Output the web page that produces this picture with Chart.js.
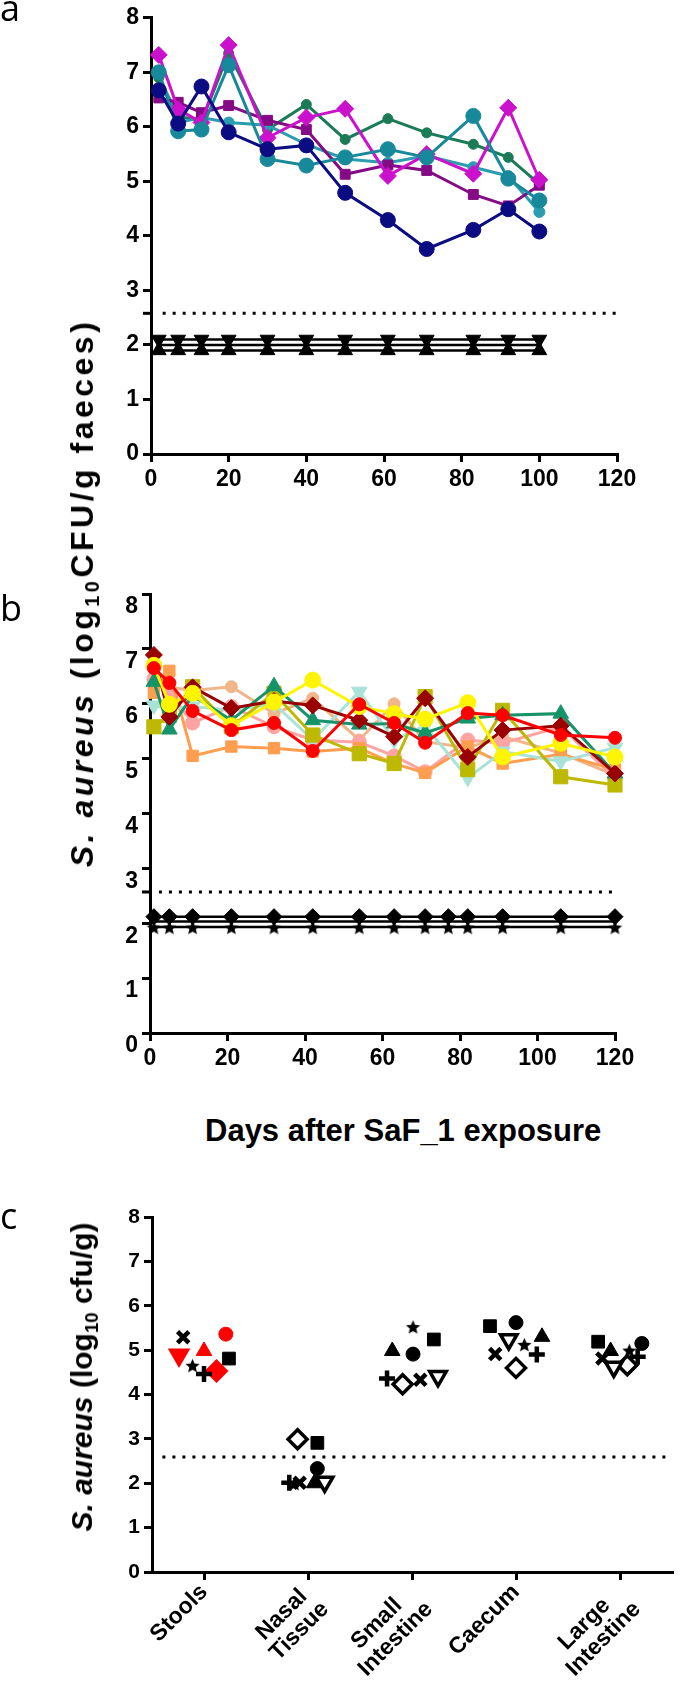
<!DOCTYPE html>
<html>
<head>
<meta charset="utf-8">
<script src="https://cdn.jsdelivr.net/npm/chart.js@4.4.1/dist/chart.umd.min.js"></script>
<style>
  html, body { margin: 0; padding: 0; background: #fff; }
  #page { position: relative; width: 685px; height: 1683px; overflow: hidden; color: #000;
          font-family: 'Liberation Sans', Arial, sans-serif; }
  #page canvas { position: absolute; left: 0; }
  .letter { position: absolute; left: 0; font: 36px 'Open Sans', sans-serif; line-height: 1; }
  .ytitle { position: absolute; white-space: nowrap; font-weight: bold; line-height: 1;
            transform: translate(-50%, -50%) rotate(-90deg); }
  .ytitle .sub { font-size: 0.62em; position: relative; top: 0.3em; }
  #xtitleB { position: absolute; left: 205px; top: 1115px; font-weight: bold; font-size: 31px;
             line-height: 1; white-space: nowrap; }
</style>
</head>
<body>
<div id="page">
  <canvas id="chartA" width="685" height="500" style="top:0px"></canvas>
  <canvas id="chartB" width="685" height="520" style="top:560px"></canvas>
  <canvas id="chartC" width="685" height="503" style="top:1180px"></canvas>

  <div class="letter" style="top:-10px">a</div>
  <div class="letter" style="top:590px">b</div>
  <div class="letter" style="top:1198px">c</div>

  <div class="ytitle" style="left:82px; top:593px; font-size:32px; letter-spacing:3.5px"><i>S. aureus</i> (log<span class="sub">10</span>CFU/g faeces)</div>
  <div id="xtitleB">Days after SaF_1 exposure</div>
  <div class="ytitle" style="left:82px; top:1377px; font-size:30px"><i>S. aureus</i> (log<span class="sub">10</span> cfu/g)</div>
</div>

<script>
// ---- panel a : faeces, days 2-100 ----
const daysA = [2, 7, 13, 20, 30, 40, 50, 61, 71, 83, 92, 100];
const navyA    = [6.67, 6.06, 6.74, 5.90, 5.59, 5.66, 4.79, 4.29, 3.76, 4.11, 4.49, 4.08];
const magentaA = [7.32, 6.32, 6.08, 7.50, 5.80, 6.17, 6.33, 5.10, 5.50, 5.14, 6.35, 5.03];
const purpleA  = [6.53, 6.45, 6.26, 6.39, 6.12, 5.95, 5.13, 5.30, 5.20, 4.76, 4.55, 4.93];
const greenA   = [6.90, 6.20, 6.10, 7.35, 5.95, 6.41, 5.77, 6.15, 5.89, 5.68, 5.44, 4.95];
const tealA    = [7.00, 5.92, 5.95, 7.13, 5.41, 5.29, 5.44, 5.59, 5.44, 6.20, 5.05, 4.65];
const tealB    = [6.98, 6.08, 6.17, 6.08, 6.03, 5.68, 5.41, 5.34, 5.47, 5.26, 5.10, 4.44];
const blackDownA = [2.1, 2.1, 2.1, 2.1, 2.1, 2.1, 2.1, 2.1, 2.1, 2.1, 2.1, 2.1];
const blackMidA  = [2.0, 2.0, 2.0, 2.0, 2.0, 2.0, 2.0, 2.0, 2.0, 2.0, 2.0, 2.0];
const blackUpA   = [1.9, 1.9, 1.9, 1.9, 1.9, 1.9, 1.9, 1.9, 1.9, 1.9, 1.9, 1.9];
const limitA = 2.58;

// ---- panel b : days 1-120 ----
const daysB = [1, 5, 11, 21, 32, 42, 54, 63, 71, 82, 91, 106, 120];
const redB       = [6.65, 6.38, 5.87, 5.52, 5.65, 5.14, 5.99, 5.65, 5.29, 5.83, 5.79, 5.43, 5.38];
const yellowB    = [6.70, 5.99, 6.19, 5.60, 6.03, 6.43, 5.95, 5.82, 5.72, 6.02, 5.03, 5.28, 5.03];
const darkRedB   = [6.89, 5.76, 6.30, 5.92, 6.05, 5.97, 5.70, 5.40, 6.10, 5.03, 5.52, 5.60, 4.73];
const greenB     = [6.40, 5.53, 6.15, 5.70, 6.32, 5.70, 5.62, 5.64, 5.47, 5.73, 5.79, 5.82, 4.73];
const oliveB     = [5.58, 5.79, 6.31, 5.58, 6.19, 5.43, 5.09, 4.91, 6.13, 4.80, 5.88, 4.67, 4.52];
const turquoiseB = [5.97, 5.90, 5.95, 5.88, 6.00, 5.34, 6.22, 5.34, 5.60, 4.65, 5.13, 4.95, 5.20];
const pinkB      = [6.45, 6.20, 5.65, 5.95, 5.58, 5.34, 5.30, 5.05, 4.76, 5.34, 5.28, 5.58, 4.65];
const peachB     = [6.40, 6.30, 6.24, 6.31, 5.82, 6.10, 5.34, 6.00, 5.31, 5.20, 5.40, 5.10, 4.70];
const orangeB    = [6.20, 6.60, 5.05, 5.22, 5.19, 5.13, 5.19, 4.91, 4.74, 5.22, 4.91, 5.08, 4.80];
const daysBlackB = [1, 5, 11, 21, 32, 42, 54, 63, 71, 77, 82, 91, 106, 120];
const blackDiamondB = [2.12, 2.12, 2.12, 2.12, 2.12, 2.12, 2.12, 2.12, 2.12, 2.12, 2.12, 2.12, 2.12, 2.12];
const blackMidB     = [2.03, 2.03, 2.03, 2.03, 2.03, 2.03, 2.03, 2.03, 2.03, 2.03, 2.03, 2.03, 2.03, 2.03];
const blackStarB    = [1.93, 1.93, 1.93, 1.93, 1.93, 1.93, 1.93, 1.93, 1.93, 1.93, 1.93, 1.93, 1.93, 1.93];
const limitB = 2.57;

// ---- panel c : organs ----
const organs = ['Stools', ['Nasal', 'Tissue'], ['Small', 'Intestine'], 'Caecum', ['Large', 'Intestine']];
const cCross   = [5.29, 2.01, 4.33, 4.91, 4.81];
const cTriDown = [4.89, 2.03, 4.41, 5.24, 4.62];
const cStar    = [4.66, 2.00, 5.53, 5.13, 5.00];
const cTriUp   = [4.98, 2.00, 4.98, 5.30, 4.98];
const cPlus    = [4.46, 2.01, 4.36, 4.90, 4.85];
const cDiamond = [4.53, 2.99, 4.23, 4.60, 4.66];
const cCircle  = [5.36, 2.33, 4.91, 5.62, 5.15];
const cSquare  = [4.81, 2.91, 5.24, 5.54, 5.19];
// horizontal scatter of each symbol inside its column (fraction of column width)
const sCross   = [-0.20, -0.08, 0.08, -0.20, -0.17];
const sTriDown = [-0.24, 0.16, 0.25, -0.07, -0.06];
const sStar    = [-0.11, -0.13, 0.01, 0.08, 0.09];
const sTriUp   = [0.00, 0.06, -0.19, 0.25, -0.09];
const sPlus    = [0.00, -0.18, -0.24, 0.20, 0.17];
const sDiamond = [0.12, -0.10, -0.09, 0.00, 0.07];
const sCircle  = [0.21, 0.09, 0.01, 0.00, 0.21];
const sSquare  = [0.24, 0.09, 0.21, -0.25, -0.21];
const limitC = 2.59;

Chart.defaults.font.family = "'Liberation Sans', Arial, sans-serif";
Chart.defaults.font.weight = 'bold';
Chart.defaults.color = '#000';
Chart.defaults.plugins.legend.display = false;
Chart.defaults.plugins.tooltip.enabled = false;

// short tick on the y axis at the detection limit
const limitTick = {
  id: 'limitTick',
  afterDraw(chart, args, opts) {
    if (opts.value == null) return;
    const y = chart.scales.y.getPixelForValue(opts.value);
    const ctx = chart.ctx;
    ctx.save();
    ctx.strokeStyle = '#000';
    ctx.lineWidth = 3;
    ctx.beginPath();
    ctx.moveTo(chart.chartArea.left - 8, y);
    ctx.lineTo(chart.chartArea.left, y);
    ctx.stroke();
    ctx.restore();
  }
};

function starMarker(size, color) {
  const c = document.createElement('canvas');
  c.width = c.height = size;
  const g = c.getContext('2d');
  const R = size / 2, r = R * 0.45;
  g.beginPath();
  for (let i = 0; i < 10; i++) {
    const rad = i % 2 ? r : R;
    const ang = -Math.PI / 2 + i * Math.PI / 5;
    g.lineTo(R + rad * Math.cos(ang), R + 1 + rad * Math.sin(ang));
  }
  g.closePath();
  g.fillStyle = color;
  g.fill();
  return c;
}

function pts(xs, ys) {
  return xs.map((x, i) => ({ x: x, y: ys[i] }));
}

function series(days, values, color, style, radius, extra) {
  return Object.assign({
    data: pts(days, values),
    borderColor: color,
    backgroundColor: color,
    pointBackgroundColor: color,
    pointBorderColor: color,
    borderWidth: 3,
    pointBorderWidth: 1,
    pointStyle: style,
    pointRadius: radius,
    tension: 0,
    clip: false
  }, extra || {});
}

function limitLine(x0, x1, value) {
  return {
    type: 'line',
    data: [{ x: x0, y: value }, { x: x1, y: value }],
    borderColor: '#000',
    borderWidth: 3,
    borderDash: [3, 7],
    pointRadius: 0,
    order: 50
  };
}

function axis(opts) {
  return {
    type: 'linear',
    min: opts.min,
    max: opts.max,
    grid: { drawOnChartArea: false, drawTicks: true, tickLength: 8, tickWidth: 3, lineWidth: 3, color: '#000' },
    border: { display: true, width: 3, color: '#000' },
    ticks: Object.assign({ font: { size: opts.size || 23, weight: 'bold' }, color: '#000', padding: 4 }, opts.ticks || {}),
    afterFit: opts.fit,
    afterBuildTicks: opts.build
  };
}

// ---------- panel a ----------
new Chart(document.getElementById('chartA'), {
  type: 'line',
  data: {
    datasets: [
      series(daysA, navyA, '#0B0B82', 'circle', 7.5, { order: 0 }),
      series(daysA, tealA, '#17899B', 'circle', 7.5, { order: 1 }),
      series(daysA, magentaA, '#CC11CC', 'rectRot', 8.5, { order: 2 }),
      series(daysA, purpleA, '#850A85', 'rect', 7, { order: 3 }),
      series(daysA, tealB, '#2A9DAF', 'circle', 5.5, { order: 4 }),
      series(daysA, greenA, '#1A7B56', 'circle', 5, { order: 5 }),
      series(daysA, blackDownA, '#000', 'triangle', 8.5, { pointRotation: 180, borderWidth: 2.5, order: 6 }),
      series(daysA, blackMidA, '#000', 'circle', 0, { borderWidth: 2.5, order: 7 }),
      series(daysA, blackUpA, '#000', 'triangle', 8.5, { borderWidth: 2.5, order: 8 }),
      limitLine(3, 120, limitA)
    ]
  },
  options: {
    responsive: false,
    animation: false,
    devicePixelRatio: 1,
    layout: { padding: { left: 111, right: 68, top: 14, bottom: 0 } },
    plugins: { limitTick: { value: limitA } },
    scales: {
      x: axis({ min: 0, max: 120, ticks: { stepSize: 20 }, fit: s => { s.height = 46; } }),
      y: axis({ min: 0, max: 8, ticks: { stepSize: 1 }, fit: s => { s.width = 40; } })
    }
  },
  plugins: [limitTick]
});

// ---------- panel b ----------
new Chart(document.getElementById('chartB'), {
  type: 'line',
  data: {
    datasets: [
      series(daysB, redB, '#FF0000', 'circle', 6.5, { order: 0 }),
      series(daysB, yellowB, '#FFF500', 'circle', 8, { order: 1 }),
      series(daysB, darkRedB, '#990000', 'rectRot', 8.5, { order: 2 }),
      series(daysB, greenB, '#17936A', 'triangle', 9, { order: 3 }),
      series(daysB, oliveB, '#BDB800', 'rect', 10, { order: 4 }),
      series(daysB, turquoiseB, '#A9E3D8', 'triangle', 9, { pointRotation: 180, order: 5 }),
      series(daysB, orangeB, '#FF9E4F', 'rect', 8, { order: 6 }),
      series(daysB, pinkB, '#FFA3A3', 'circle', 7, { order: 7 }),
      series(daysB, peachB, '#F0B588', 'circle', 6, { order: 8 }),
      series(daysBlackB, blackDiamondB, '#000', 'rectRot', 8, { borderWidth: 2.5, order: 9 }),
      series(daysBlackB, blackMidB, '#000', 'circle', 0, { borderWidth: 2.5, order: 10 }),
      series(daysBlackB, blackStarB, '#000', starMarker(15, '#000'), 7, { borderWidth: 2.5, order: 11 }),
      limitLine(2.3, 120, limitB)
    ]
  },
  options: {
    responsive: false,
    animation: false,
    devicePixelRatio: 1,
    layout: { padding: { left: 110, right: 70, top: 34, bottom: 0 } },
    plugins: { limitTick: { value: limitB } },
    scales: {
      x: axis({ min: 0, max: 120, ticks: { stepSize: 20 }, fit: s => { s.height = 47; } }),
      y: axis({ min: 0, max: 8, ticks: { stepSize: 1, labelOffset: 13 }, fit: s => { s.width = 40; } })
    }
  },
  plugins: [limitTick]
});

// ---------- panel c ----------
const red = '#FF0000';
function organPts(values, spread) {
  return values.map((v, i) => ({ x: i + 0.5 + spread[i], y: v }));
}
function organSet(values, spread, style, radius, fill, edge, width) {
  return {
    type: 'scatter',
    data: organPts(values, spread),
    pointStyle: style,
    pointRadius: radius,
    pointBackgroundColor: fill,
    pointBorderColor: edge,
    pointBorderWidth: width,
    clip: false
  };
}
const stoolsRed = other => [red, other, other, other, other];

// the two-word names are roughly centred on each other, so the shorter
// first word is padded on its right
function organLabel(value) {
  const name = organs[Math.round(value - 0.5)];
  if (!Array.isArray(name)) return name;
  const pad = name[1].length - name[0].length;
  return [name[0] + '\u00a0'.repeat(Math.max(1, Math.round(pad * 0.7))), name[1]];
}

new Chart(document.getElementById('chartC'), {
  type: 'scatter',
  data: {
    datasets: [
      organSet(cCross, sCross, 'crossRot', 8, '#000', '#000', 4.5),
      organSet(cTriDown, sTriDown, 'triangle', 9.5, stoolsRed('#FFF'), stoolsRed('#000'), 3.5),
      organSet(cStar, sStar, starMarker(15, '#000'), 7, '#000', '#000', 1),
      organSet(cTriUp, sTriUp, 'triangle', 9, stoolsRed('#000'), stoolsRed('#000'), 1),
      organSet(cPlus, sPlus, 'cross', 8, '#000', '#000', 4.5),
      organSet(cDiamond, sDiamond, 'rectRot', 9.5, stoolsRed('#FFF'), stoolsRed('#000'), 3.5),
      organSet(cCircle, sCircle, 'circle', 7, stoolsRed('#000'), stoolsRed('#000'), 1),
      organSet(cSquare, sSquare, 'rect', 9, '#000', '#000', 1),
      limitLine(0.1, 5, limitC)
    ].map((d, i) => {
      if (i === 1) d.pointRotation = 180;
      return d;
    })
  },
  options: {
    responsive: false,
    animation: false,
    devicePixelRatio: 1,
    layout: { padding: { left: 112, right: 1, top: 37, bottom: 0 } },
    scales: {
      x: axis({
        min: 0, max: 5,
        ticks: {
          autoSkip: false, minRotation: 45, maxRotation: 45, padding: 0,
          font: { size: 23, weight: 'bold', lineHeight: 1.05 },
          callback: organLabel
        },
        build: s => { s.ticks = organs.map((o, i) => ({ value: i + 0.5 })); },
        fit: s => { s.height = 111; }
      }),
      y: axis({ min: 0, max: 8, size: 21, ticks: { stepSize: 1 }, fit: s => { s.width = 40; } })
    }
  }
});
</script>
</body>
</html>
